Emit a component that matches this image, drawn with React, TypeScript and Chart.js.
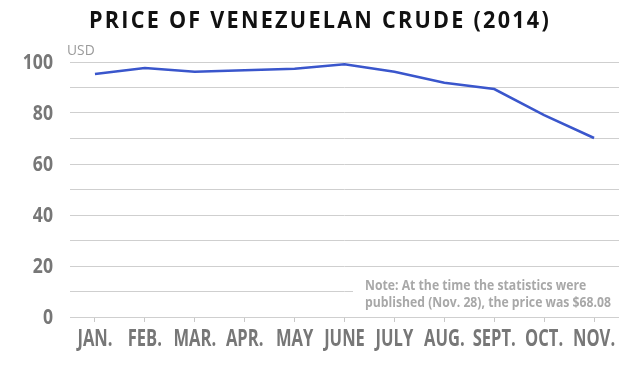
import React, { useEffect, useRef } from 'react';
import { Chart, registerables } from 'chart.js';

Chart.register(...registerables);

const months = ['JAN.', 'FEB.', 'MAR.', 'APR.', 'MAY', 'JUNE', 'JULY', 'AUG.', 'SEPT.', 'OCT.', 'NOV.'];
const prices = [95.3, 97.6, 96.2, 96.8, 97.4, 99.1, 96.2, 91.9, 89.4, 79.2, 70.2];
const yLabelTicks = [0, 20, 40, 60, 80, 100];
const titleText = 'PRICE OF VENEZUELAN CRUDE (2014)';
const unitText = 'USD';
const noteLines = ['Note: At the time the statistics were', 'published (Nov. 28), the price was $68.08'];

const FAM = "'Open Sans', 'Liberation Sans', sans-serif";
const LABEL_COLOR = '#777777';

function drawCondensed(ctx: any, text: string, x: number, y: number, align: string, sx: number) {
  ctx.save();
  ctx.translate(x, y);
  ctx.scale(sx, 1);
  ctx.textAlign = align;
  ctx.textBaseline = 'middle';
  ctx.fillText(text, 0, 0);
  ctx.restore();
}

const decor = {
  id: 'decor',
  beforeDatasetsDraw(chart: any) {
    const { ctx, chartArea, scales } = chart;
    const y = scales.y;
    ctx.save();
    const top = y.getPixelForValue(20) + 5;
    const bottom = y.getPixelForValue(0) - 5;
    ctx.fillStyle = '#ffffff';
    ctx.fillRect(353, top, chartArea.right - 353 + 2, bottom - top);
    ctx.fillStyle = '#a8a8a8';
    ctx.font = 'bold 14.5px ' + FAM;
    const w = ctx.measureText(noteLines[1]).width;
    const sx = 246 / w;
    drawCondensed(ctx, noteLines[0], 365, 286, 'left', sx);
    drawCondensed(ctx, noteLines[1], 365, 303, 'left', sx);
    ctx.restore();
  },
  afterDraw(chart: any) {
    const { ctx, chartArea, scales } = chart;
    ctx.save();
    ctx.fillStyle = LABEL_COLOR;
    ctx.font = 'bold 23px ' + FAM;
    const xs = scales.x;
    xs.ticks.forEach((t: any, i: number) => {
      const px = xs.getPixelForTick(i);
      drawCondensed(ctx, String(xs.getLabelForValue(t.value)), px, 339, 'center', 0.72);
    });
    ctx.font = 'bold 22px ' + FAM;
    const ys = scales.y;
    ys.ticks.forEach((t: any) => {
      if (!yLabelTicks.includes(t.value)) return;
      drawCondensed(ctx, String(t.value), 53, ys.getPixelForValue(t.value) + 1, 'right', 0.8);
    });
    ctx.fillStyle = '#111111';
    ctx.font = 'bold 24px ' + FAM;
    (ctx as any).letterSpacing = '2.5px';
    const tw = ctx.measureText(titleText).width;
    drawCondensed(ctx, titleText, 320, 21, 'center', 462 / tw);
    (ctx as any).letterSpacing = '0px';
    ctx.fillStyle = '#9a9a9a';
    ctx.font = '15px ' + FAM;
    drawCondensed(ctx, unitText, chartArea.left - 3, 51, 'left', 0.92);
    ctx.restore();
  },
};

export default function App() {
  const ref = useRef<HTMLCanvasElement | null>(null);
  useEffect(() => {
    if (!ref.current) return;
    const chart = new Chart(ref.current, {
      type: 'line',
      data: {
        labels: months,
        datasets: [
          {
            data: prices,
            borderColor: '#3a56cc',
            borderWidth: 2.5,
            pointRadius: 0,
            tension: 0,
            fill: false,
          },
        ],
      },
      options: {
        animation: false,
        responsive: false,
        devicePixelRatio: 1,
        layout: { padding: { top: 62, right: 19, left: 0, bottom: 0 } },
        plugins: { legend: { display: false }, tooltip: { enabled: false }, title: { display: false } },
        scales: {
          x: {
            offset: true,
            afterFit: (s: any) => { s.height = 52; },
            grid: { offset: false, drawOnChartArea: false, drawTicks: true, tickLength: 5, tickColor: '#c8c8c8' },
            border: { display: false },
            ticks: {
              color: 'rgba(0,0,0,0)',
              font: { family: FAM, size: 12, weight: 'bold' },
              padding: 3,
              maxRotation: 0,
              autoSkip: false,
            },
          },
          y: {
            min: 0,
            max: 100,
            afterFit: (s: any) => { s.width = 70; },
            grid: { color: '#cfcfcf', lineWidth: 1, drawTicks: false },
            border: { display: false },
            ticks: {
              stepSize: 10,
              color: 'rgba(0,0,0,0)',
              padding: 17,
              font: { family: FAM, size: 12, weight: 'bold' },
              callback: (v: any) => (yLabelTicks.includes(Number(v)) ? String(v) : ''),
            },
          },
        },
      },
      plugins: [decor],
    });
    return () => chart.destroy();
  }, []);
  return (
    <div style={{ position: 'absolute', left: 0, top: 0, width: 638, height: 369, background: '#fff' }}>
      <canvas ref={ref} width={638} height={369} style={{ display: 'block' }} />
    </div>
  );
}
